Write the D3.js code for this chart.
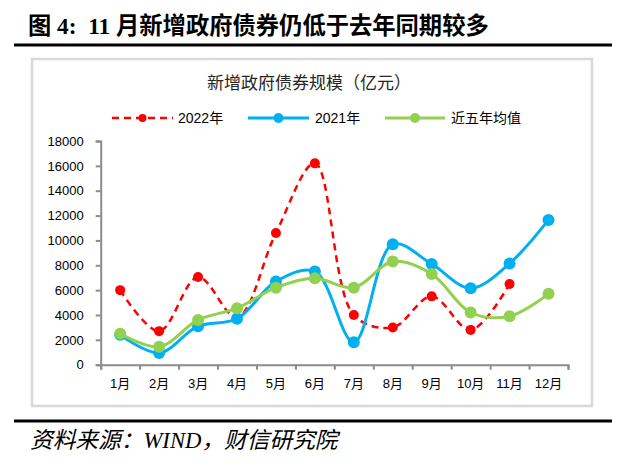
<!DOCTYPE html>
<html>
<head>
<meta charset="utf-8">
<script src="https://cdn.jsdelivr.net/npm/d3@7"></script>
<style>
  html, body { margin: 0; padding: 0; background: #fff; }
  svg { display: block; }
</style>
</head>
<body>
<svg id="chart" width="631" height="466"></svg>
<script>
const months = ["1月","2月","3月","4月","5月","6月","7月","8月","9月","10月","11月","12月"];
const v2022 = [6000, 2700, 7050, 3800, 10600, 16200, 4000, 3000, 5500, 2800, 6500, null];
const v2021 = [2400, 950, 3100, 3700, 6700, 7500, 1800, 9700, 8100, 6150, 8150, 11650];
const vAvg  = [2500, 1450, 3600, 4550, 6200, 6950, 6200, 8300, 7300, 4200, 3900, 5700];
const yTicks = [0, 2000, 4000, 6000, 8000, 10000, 12000, 14000, 16000, 18000];

const svg = d3.select("#chart");
const sansFont = "'Liberation Sans', 'Noto Sans CJK SC', sans-serif";
const serifFont = "'Liberation Serif', 'Noto Sans CJK SC', serif";

// Report title
svg.append("text").attr("x", 28).attr("y", 34)
  .style("white-space", "pre")
  .attr("font-family", serifFont)
  .attr("font-weight", "bold").attr("font-size", 23.3).attr("fill", "#000")
  .text("图 4:  11 月新增政府债券仍低于去年同期较多");
svg.append("line").attr("x1", 14).attr("x2", 612).attr("y1", 45).attr("y2", 45)
  .attr("stroke", "#000").attr("stroke-width", 3);

// Chart frame
svg.append("rect").attr("x", 32).attr("y", 59).attr("width", 560).attr("height", 347)
  .attr("fill", "#fff").attr("stroke", "#d9d9d9").attr("stroke-width", 2.5);

// Bottom rule and source
svg.append("line").attr("x1", 14).attr("x2", 612).attr("y1", 421).attr("y2", 421)
  .attr("stroke", "#000").attr("stroke-width", 3);
svg.append("text").attr("x", 30).attr("y", 448)
  .attr("font-family", serifFont)
  .attr("font-style", "italic").attr("font-size", 22.7).attr("fill", "#000")
  .text("资料来源：WIND，财信研究院");

// Chart title
svg.append("text").attr("x", 309).attr("y", 89).attr("text-anchor", "middle")
  .attr("font-family", sansFont).attr("font-size", 17).attr("fill", "#262626")
  .text("新增政府债券规模（亿元）");

// Scales
const x0 = 100.7, x1 = 568, yBottom = 364.7, yTop = 141;
const xBand = d3.scaleBand().domain(months).range([x0, x1]).padding(0);
const xLin = d3.scaleLinear().domain([0, 12]).range([x0, x1]);
const y = d3.scaleLinear().domain([0, 18000]).range([yBottom, yTop]);
const cx = m => xBand(m) + xBand.bandwidth() / 2;

// Y axis
const yAxis = svg.append("g").attr("transform", `translate(${x0},0)`)
  .call(d3.axisLeft(y).tickValues(yTicks).tickSize(5).tickPadding(12).tickFormat(d3.format("d")));
yAxis.select(".domain").attr("stroke", "#8c8c8c").attr("stroke-width", 2);
yAxis.selectAll(".tick line").attr("stroke", "#8c8c8c").attr("stroke-width", 2);
yAxis.selectAll(".tick text").attr("font-family", sansFont).attr("font-size", 13).attr("fill", "#000");

// X axis (tick marks between categories)
const xAxisTicks = svg.append("g").attr("transform", `translate(0,${yBottom})`)
  .call(d3.axisBottom(xLin).tickValues(d3.range(0, 13)).tickSize(5).tickFormat(""));
xAxisTicks.select(".domain").attr("stroke", "#8c8c8c").attr("stroke-width", 2);
xAxisTicks.selectAll(".tick line").attr("stroke", "#8c8c8c").attr("stroke-width", 2);
const xAxisLabels = svg.append("g").attr("transform", `translate(0,${yBottom})`)
  .call(d3.axisBottom(xBand).tickSize(0).tickPadding(14));
xAxisLabels.select(".domain").remove();
xAxisLabels.selectAll(".tick text").attr("font-family", sansFont).attr("font-size", 13).attr("fill", "#000");

// Series
const series = [
  { name: "2022年", values: v2022, color: "#ff0000", width: 2.5, dash: "7,5", r: 5 },
  { name: "2021年", values: v2021, color: "#00b0f0", width: 3, dash: null, r: 6 },
  { name: "近五年均值", values: vAvg, color: "#92d050", width: 3, dash: null, r: 6 }
];

series.forEach(s => {
  const pts = months.map((m, i) => ({ m, v: s.values[i] })).filter(d => d.v != null);
  const line = d3.line().x(d => cx(d.m)).y(d => y(d.v)).curve(d3.curveCatmullRom.alpha(0.5));
  svg.append("path").datum(pts).attr("d", line).attr("fill", "none")
    .attr("stroke", s.color).attr("stroke-width", s.width)
    .attr("stroke-dasharray", s.dash);
  svg.append("g").selectAll("circle").data(pts).join("circle")
    .attr("cx", d => cx(d.m)).attr("cy", d => y(d.v)).attr("r", s.r)
    .attr("fill", s.color);
});

// Legend
const legendItems = [
  { s: series[0], lx1: 112, lx2: 173, tx: 178 },
  { s: series[1], lx1: 248, lx2: 309, tx: 315 },
  { s: series[2], lx1: 385, lx2: 445, tx: 451 }
];
const ly = 118;
legendItems.forEach(it => {
  svg.append("line").attr("x1", it.lx1).attr("x2", it.lx2).attr("y1", ly).attr("y2", ly)
    .attr("stroke", it.s.color).attr("stroke-width", it.s.width)
    .attr("stroke-dasharray", it.s.dash);
  svg.append("circle").attr("cx", (it.lx1 + it.lx2) / 2).attr("cy", ly).attr("r", it.s.r - 1)
    .attr("fill", it.s.color);
  svg.append("text").attr("x", it.tx).attr("y", ly + 5)
    .attr("font-family", sansFont).attr("font-size", 14).attr("fill", "#000")
    .text(it.s.name);
});
</script>
</body>
</html>
